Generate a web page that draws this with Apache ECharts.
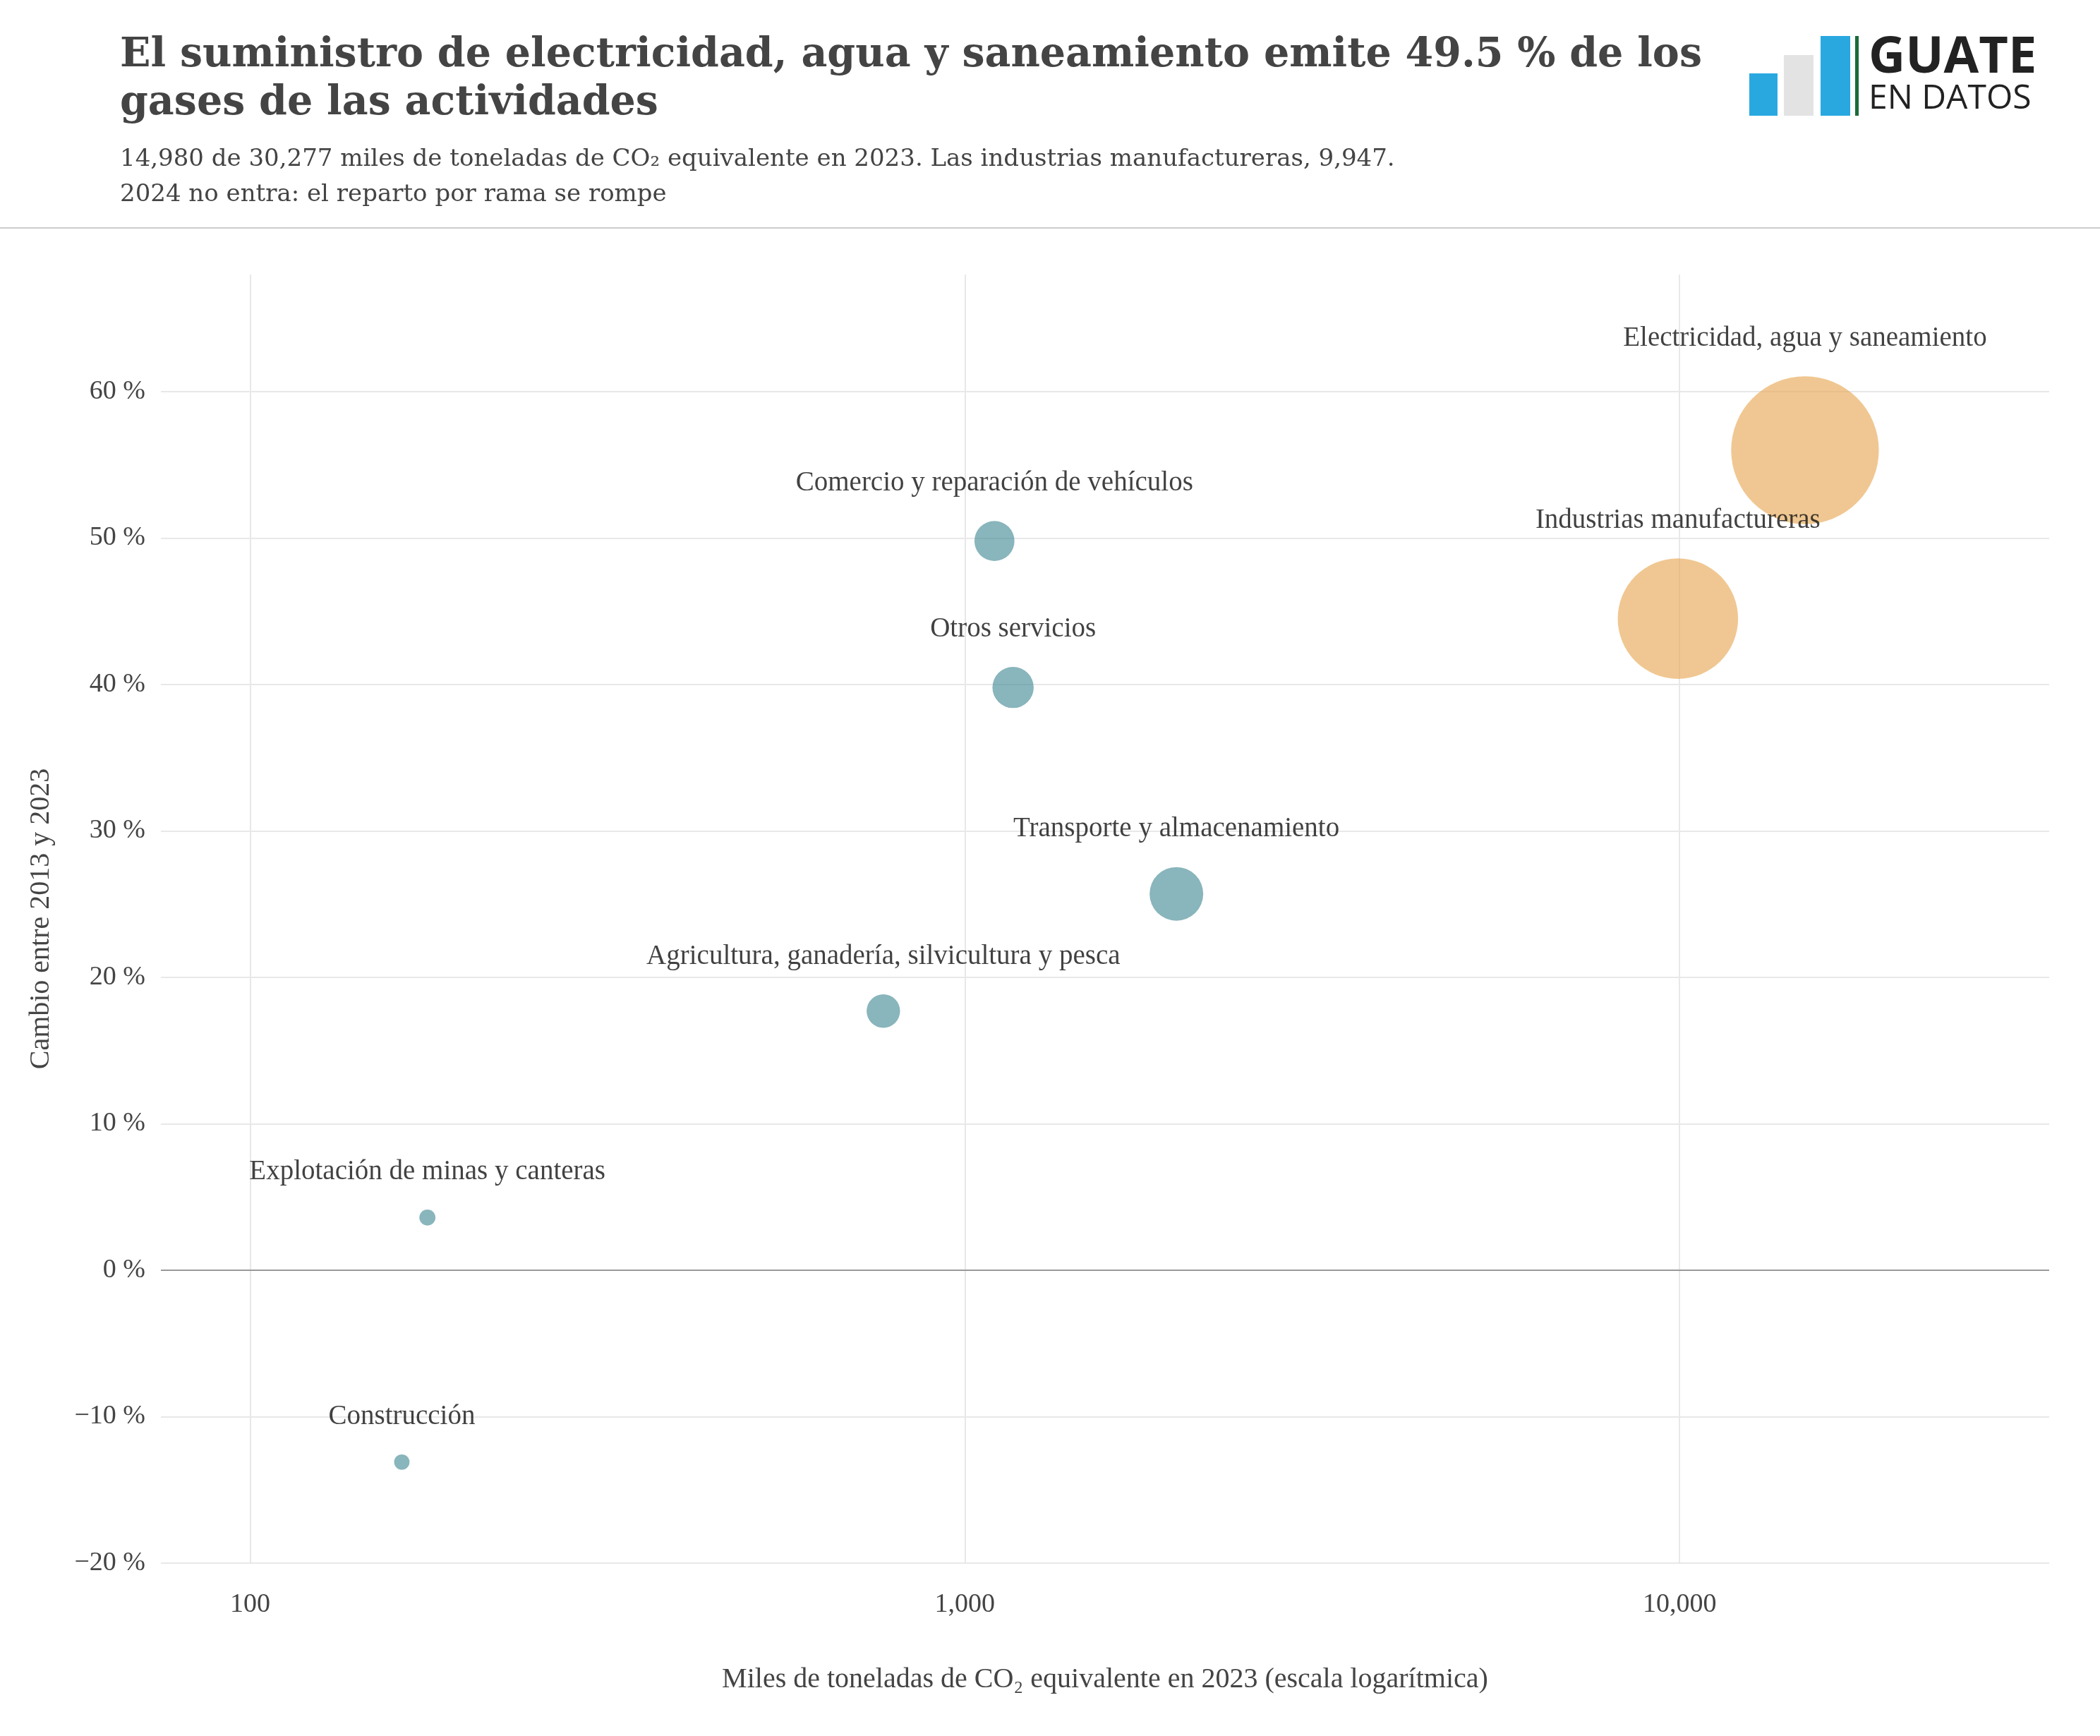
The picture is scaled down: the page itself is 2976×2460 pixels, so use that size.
<!DOCTYPE html>
<html><head><meta charset="utf-8">
<script src="https://cdn.jsdelivr.net/npm/echarts@6/dist/echarts.min.js"></script>
<style>html,body{margin:0;padding:0;background:#fff}#chart{width:2976px;height:2460px}</style>
</head><body><div id="chart"></div>
<script>
var sectores = ['Electricidad, agua y saneamiento','Industrias manufactureras','Comercio y reparación de vehículos','Otros servicios','Transporte y almacenamiento','Agricultura, ganadería, silvicultura y pesca','Explotación de minas y canteras','Construcción'];
var emisiones2023 = [14980, 9947, 1100, 1168, 1977, 769, 177, 163];
var cambio = [56.0, 44.5, 49.8, 39.8, 25.7, 17.7, 3.6, -13.1];
var destacado = [true, true, false, false, false, false, false, false];
var xTicks = {100:'100', 1000:'1,000', 10000:'10,000'};

var serif = 'Liberation Serif';
var chart = echarts.init(document.getElementById('chart'));

var puntos = sectores.map(function (s, i) {
  return {
    name: s,
    value: [emisiones2023[i], cambio[i]],
    symbolSize: 1.71 * Math.sqrt(emisiones2023[i]),
    itemStyle: {color: destacado[i] ? 'rgba(232,168,85,0.8)' : 'rgba(70,140,150,0.8)'}
  };
});

option = {
  backgroundColor: '#fff',
  title: [{
    text: 'El suministro de electricidad, agua y saneamiento emite 49.5 % de los\ngases de las actividades',
    left: 165, top: 40,
    textStyle: {fontFamily: 'DejaVu Serif', fontWeight: 'bold', fontSize: 57, color: '#444', lineHeight: 68}
  }, {
    text: '14,980 de 30,277 miles de toneladas de CO₂ equivalente en 2023. Las industrias manufactureras, 9,947.\n2024 no entra: el reparto por rama se rompe',
    left: 165, top: 196,
    textStyle: {fontFamily: 'DejaVu Serif', fontWeight: 'normal', fontSize: 34, color: '#444', lineHeight: 50}
  }],
  graphic: [
    {type: 'line', shape: {x1: 0, y1: 323, x2: 2976, y2: 323}, style: {stroke: '#ccc', lineWidth: 2}},
    {type: 'rect', shape: {x: 2479, y: 104, width: 40, height: 60}, style: {fill: '#29a8e0'}},
    {type: 'rect', shape: {x: 2528, y: 78, width: 42, height: 86}, style: {fill: '#e3e3e3'}},
    {type: 'rect', shape: {x: 2580, y: 51, width: 42, height: 113}, style: {fill: '#29a8e0'}},
    {type: 'rect', shape: {x: 2629, y: 51, width: 5, height: 113}, style: {fill: '#1b6b3a'}},
    {type: 'text', left: 2648, top: 46, style: {text: 'GUATE', font: 'bold 72px "Open Sans"', fill: '#222'}},
    {type: 'text', left: 2648, top: 116, style: {text: 'EN DATOS', font: '48px "Open Sans"', fill: '#222'}}
  ],
  grid: {left: 228, right: 72, top: 389, bottom: 245},
  xAxis: {
    type: 'log', logBase: 10, min: 75, max: 32900,
    name: 'Miles de toneladas de CO₂ equivalente en 2023 (escala logarítmica)',
    nameLocation: 'middle', nameGap: 145,
    nameTextStyle: {fontFamily: serif, fontSize: 40, color: '#444'},
    axisLine: {show: false}, axisTick: {show: false},
    axisLabel: {fontFamily: serif, fontSize: 38, color: '#444', margin: 40,
      formatter: function (v) { return xTicks[Math.round(v)] || ''; }},
    splitLine: {show: true, showMinLine: false, showMaxLine: false, lineStyle: {color: '#e8e8e8', width: 2}}
  },
  yAxis: {
    type: 'value', min: -20, max: 68, interval: 10,
    name: 'Cambio entre 2013 y 2023', nameLocation: 'middle', nameGap: 150,
    nameTextStyle: {fontFamily: serif, fontSize: 40, color: '#444'},
    axisLine: {show: false}, axisTick: {show: false},
    axisLabel: {fontFamily: serif, fontSize: 38, color: '#444', margin: 22,
      formatter: function (v) { return v > 60 ? '' : String(v).replace('-', '−') + ' %'; }},
    splitLine: {show: true, showMaxLine: false, lineStyle: {color: '#e8e8e8', width: 2}}
  },
  series: [{
    type: 'scatter',
    data: puntos,
    label: {show: true, position: 'top', distance: 34, formatter: '{b}',
      fontFamily: serif, fontSize: 39, color: '#111'},
    markLine: {silent: true, symbol: 'none', label: {show: false},
      lineStyle: {color: '#999', type: 'solid', width: 2},
      data: [{yAxis: 0}]}
  }]
};
chart.setOption(option);
</script></body></html>
